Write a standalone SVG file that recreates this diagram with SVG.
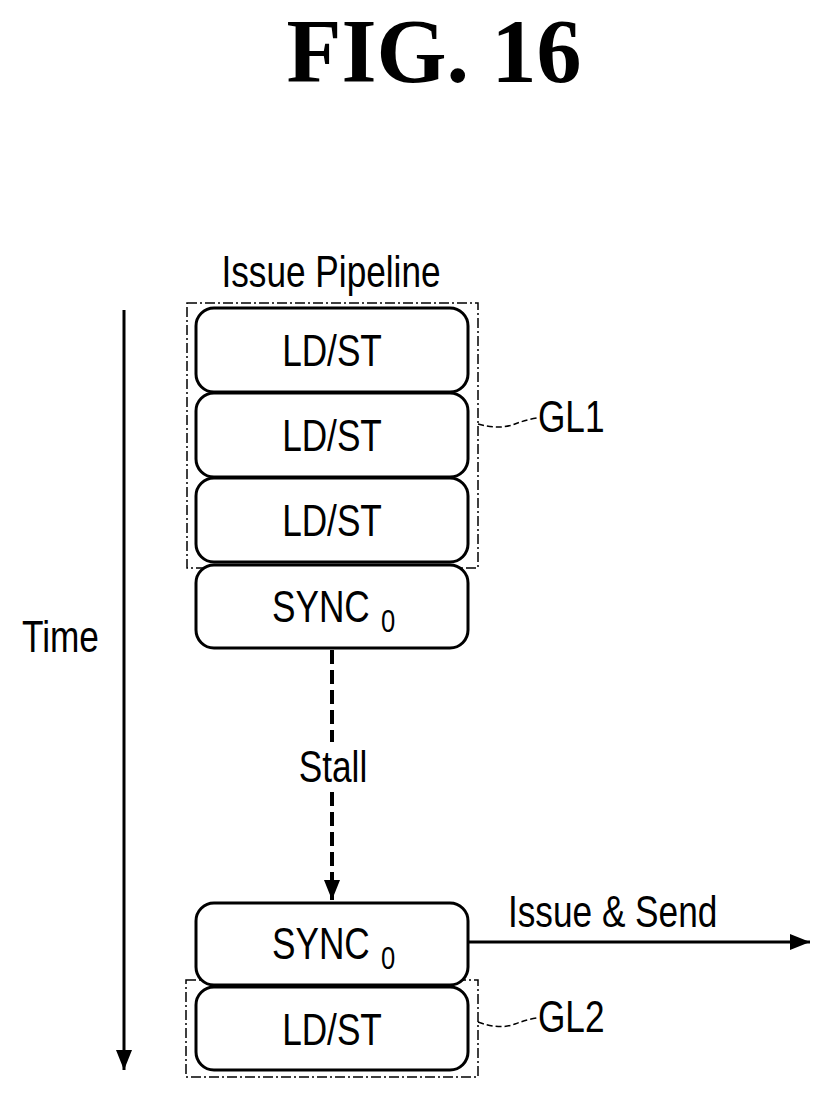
<svg xmlns="http://www.w3.org/2000/svg" width="833" height="1100" viewBox="0 0 833 1100">
<style>
.t{font-family:"Liberation Sans",sans-serif;font-size:44px;fill:#000}
.s{font-family:"Liberation Sans",sans-serif;font-size:32px;fill:#000}
.n{fill:#fff;stroke:#000;stroke-width:3}
.g{fill:none;stroke:#000;stroke-width:1.5;stroke-dasharray:10,3,2,3}
.l{fill:none;stroke:#000;stroke-width:1.5}
</style>
<defs><marker id="b" markerWidth="22" markerHeight="22" refX="20" refY="11" orient="auto" markerUnits="userSpaceOnUse"><path d="M0,3 L20,11 L0,19 z"/></marker></defs>
<rect width="833" height="1100" fill="#fff"/>
<text x="434" y="82" text-anchor="middle" style="font-family:'Liberation Serif',serif;font-weight:bold;font-size:90px">FIG. 16</text>
<text class="t" transform="translate(331,287) scale(0.8,1)" text-anchor="middle">Issue Pipeline</text>
<g id="GL1"><rect class="g" x="187" y="303" width="291" height="265"/><path class="l" d="M478,424 Q500,430 515,424 Q525,420 537,418" stroke-dasharray="6,3"/><text class="t" transform="translate(538,432) scale(0.8,1)">GL1</text></g>
<g id="n1"><rect class="n" x="196" y="308" width="272" height="84" rx="18"/><text class="t" transform="translate(332,366) scale(0.8,1)" text-anchor="middle">LD/ST</text></g>
<g id="n2"><rect class="n" x="196" y="393" width="272" height="84" rx="18"/><text class="t" transform="translate(332,451) scale(0.8,1)" text-anchor="middle">LD/ST</text></g>
<g id="n3"><rect class="n" x="196" y="478" width="272" height="84" rx="18"/><text class="t" transform="translate(332,536) scale(0.8,1)" text-anchor="middle">LD/ST</text></g>
<g id="n4"><rect class="n" x="196" y="565" width="272" height="83" rx="18"/><text class="t" transform="translate(272,622) scale(0.8,1)">SYNC</text><text class="s" transform="translate(381,632) scale(0.8,1)">0</text></g>
<g id="GL2"><rect class="g" x="186" y="980" width="292" height="97"/><path class="l" d="M478,1022 Q500,1030 515,1024 Q525,1020 537,1018" stroke-dasharray="6,3"/><text class="t" transform="translate(538,1032) scale(0.8,1)">GL2</text></g>
<g id="n5"><rect class="n" x="196" y="903" width="272" height="82" rx="18"/><text class="t" transform="translate(272,959) scale(0.8,1)">SYNC</text><text class="s" transform="translate(381,969) scale(0.8,1)">0</text></g>
<g id="n6"><rect class="n" x="196" y="987" width="272" height="83" rx="18"/><text class="t" transform="translate(332,1045) scale(0.8,1)" text-anchor="middle">LD/ST</text></g>
<g id="connectors">
<line x1="124" y1="310" x2="124" y2="1070" stroke="#000" stroke-width="3" marker-end="url(#b)"/>
<line x1="332" y1="650" x2="332" y2="742" stroke="#000" stroke-width="4" stroke-dasharray="14,6"/>
<line x1="332" y1="792" x2="332" y2="900" stroke="#000" stroke-width="4" stroke-dasharray="14,6" marker-end="url(#b)"/>
<line x1="468" y1="942" x2="810" y2="942" stroke="#000" stroke-width="3" marker-end="url(#b)"/>
</g>
<text class="t" transform="translate(22,652) scale(0.8,1)">Time</text>
<text class="t" transform="translate(333,782) scale(0.8,1)" text-anchor="middle">Stall</text>
<text class="t" transform="translate(508,927) scale(0.8,1)">Issue &amp; Send</text>
</svg>
